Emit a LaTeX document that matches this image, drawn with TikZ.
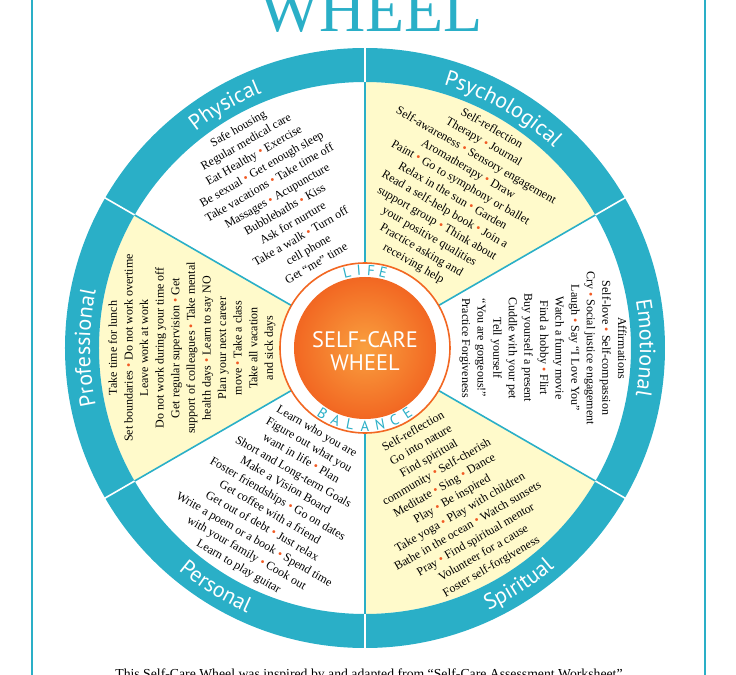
\documentclass[tikz,border=0pt]{standalone}
\usepackage{fontspec}
\setmainfont{Liberation Serif}
\newfontfamily\ptsans{PT Sans}
\usetikzlibrary{decorations.text}
\definecolor{wheelteal}{HTML}{2AAFC7}
\definecolor{wheelcream}{HTML}{FFFACB}
\definecolor{wheelorange}{HTML}{F26722}
\definecolor{hublight}{HTML}{F9A03F}
\definecolor{dotred}{HTML}{F15A24}
\newcommand{\bul}{{\color{dotred}\textbullet}}

\begin{document}
\begin{tikzpicture}[x=0.75pt,y=0.75pt,
  items/.style={align=center,inner sep=0pt,font=\fontsize{9}{11.7}\selectfont},
  ringlabel/.style={decorate,decoration={text along path,text align=center,
    text={|\ptsans\fontsize{16.5}{16.5}\selectfont\color{white}|#1}}},
  hubletter/.style={text=wheelteal,inner sep=0pt,font=\ptsans\fontsize{11}{11}\selectfont},
]
  \useasboundingbox (-365,-327) rectangle (371,348);
  \clip (-365,-327) rectangle (371,348);

  % Frame and title
  \draw[wheelteal,line width=1.5] (-333,-327) -- (-333,348);
  \draw[wheelteal,line width=1.5] (340,-327) -- (340,348);
  \node[font=\fontsize{48}{48}\selectfont,text=wheelteal,anchor=base] (title) at (6,316) {WHEEL};

  % Sectors
  \foreach \a in {30,150,270}
    \fill[wheelcream] (0,0) -- (\a:266) arc[start angle=\a,end angle=\a+60,radius=266] -- cycle;

  % Outer ring
  \fill[wheelteal,even odd rule] (0,0) circle[radius=300] (0,0) circle[radius=266];
  \foreach \a in {30,90,...,330} {
    \draw[white,line width=1.2] (\a:265) -- (\a:301);
    \draw[wheelteal,line width=1.2] (\a:85) -- (\a:266);
  }

  % Hub
  \filldraw[fill=white,draw=wheelorange,line width=1.2] (0,0) circle[radius=85];
  \shade[inner color=hublight,outer color=wheelorange] (0,0) circle[radius=71];
  \node[text=white,align=center,font=\ptsans\fontsize{16.8}{17}\selectfont] (hub) at (0,-3) {SELF-CARE\\WHEEL};
  \foreach \ch [count=\i] in {L,I,F,E}
    \node[hubletter,rotate=22.5-9*\i] (life-\i) at ({112.5-9*\i}:78) {\ch};
  \foreach \ch [count=\i] in {B,A,L,A,N,C,E}
    \node[hubletter,rotate=-44+11*\i] (balance-\i) at ({-134+11*\i}:78) {\ch};

  % Physical
  \node[items,rotate=30] (physical) at (120:176) {Safe housing\\Regular medical care\\Eat Healthy \bul{} Exercise\\Be sexual \bul{} Get enough sleep\\Take vacations \bul{} Take time off\\Massages \bul{} Acupuncture\\Bubblebaths \bul{} Kiss\\Ask for nurture\\Take a walk \bul{} Turn off\\cell phone\\Get “me” time};
  \path[ringlabel=Physical] (150:275) arc[start angle=150,end angle=90,radius=275];

  % Psychological
  \node[items,rotate=-30] (psychological) at (60:175) {Self-reflection\\Therapy \bul{} Journal\\Self-awareness \bul{} Sensory engagement\\Aromatherapy \bul{} Draw\\Paint \bul{} Go to symphony or ballet\\Relax in the sun \bul{} Garden\\Read a self-help book \bul{} Join a\\support group \bul{} Think about\\your positive qualities\\Practice asking and\\receiving help};
  \path[ringlabel=Psychological] (90:275) arc[start angle=90,end angle=30,radius=275];

  % Emotional
  \node[items,rotate=-90] (emotional) at (0:178) {Affirmations\\Self-love \bul{} Self-compassion\\Cry \bul{} Social justice engagement\\Laugh \bul{} Say “I Love You”\\Watch a funny movie\\Find a hobby \bul{} Flirt\\Buy yourself a present\\Cuddle with your pet\\Tell yourself\\“You are gorgeous!”\\Practice Forgiveness};
  \path[ringlabel=Emotional] (30:275) arc[start angle=30,end angle=-30,radius=275];

  % Spiritual
  \node[items,rotate=30] (spiritual) at (-60:175) {Self-reflection\\Go into nature\\Find spiritual\\community \bul{} Self-cherish\\Meditate \bul{} Sing \bul{} Dance\\Play \bul{} Be inspired\\Take yoga \bul{} Play with children\\Bathe in the ocean \bul{} Watch sunsets\\Pray \bul{} Find spiritual mentor\\Volunteer for a cause\\Foster self-forgiveness};
  \path[ringlabel=Spiritual] (-87:290) arc[start angle=-87,end angle=-27,radius=290];

  % Personal
  \node[items,rotate=-30] (personal) at (-120:175) {Learn who you are\\Figure out what you\\want in life \bul{} Plan\\Short and Long-term Goals\\Make a Vision Board\\Foster friendships \bul{} Go on dates\\Get coffee with a friend\\Get out of debt \bul{} Just relax\\Write a poem or a book \bul{} Spend time\\with your family \bul{} Cook out\\Learn to play guitar};
  \path[ringlabel=Personal] (-152:290) arc[start angle=-152,end angle=-92,radius=290];

  % Professional
  \node[items,rotate=90] (professional) at (180:173) {Take time for lunch\\Set boundaries \bul{} Do not work overtime\\Leave work at work\\Do not work during your time off\\Get regular supervision \bul{} Get\\support of colleagues \bul{} Take mental\\health days \bul{} Learn to say NO\\Plan your next career\\move \bul{} Take a class\\Take all vacation\\and sick days};
  \path[ringlabel=Professional] (210:275) arc[start angle=210,end angle=150,radius=275];

  % Credit line
  \node[font=\fontsize{10.3}{12}\selectfont,anchor=base] (credit) at (4,-330) {This Self-Care Wheel was inspired by and adapted from “Self-Care Assessment Worksheet”};
\end{tikzpicture}
\end{document}
